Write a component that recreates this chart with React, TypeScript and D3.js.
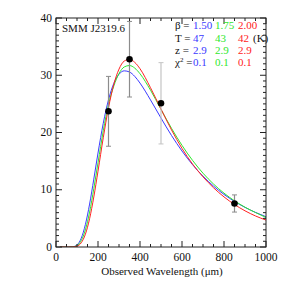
import React from "react";
import * as d3 from "d3";

const wavelengths = [20, 40, 60, 80, 100, 120, 140, 160, 180, 200, 225, 250, 275, 300, 325, 350, 375, 400, 450, 500, 550, 600, 650, 700, 750, 800, 850, 900, 950, 1000];
const blueFlux = [0, 0, 0, 0.04, 0.36, 1.51, 3.93, 7.5, 11.86, 16.41, 21.61, 25.72, 28.56, 30.18, 30.77, 30.57, 29.8, 28.63, 25.69, 22.52, 19.48, 16.76, 14.39, 12.37, 10.64, 9.18, 7.96, 6.92, 6.04, 5.29];
const greenFlux = [0, 0, 0, 0.02, 0.25, 1.1, 3.0, 6.1, 10.2, 14.7, 20.3, 24.9, 28.1, 30.3, 31.45, 31.7, 31.25, 30.26, 27.4, 24.03, 20.73, 17.75, 15.14, 12.89, 11.0, 9.41, 8.07, 6.95, 6.02, 5.15];
const redFlux = [0, 0, 0, 0.01, 0.14, 0.73, 2.24, 4.95, 8.74, 13.24, 19.08, 24.31, 28.38, 31.07, 32.48, 32.76, 32.25, 31.14, 27.82, 24.09, 20.45, 17.22, 14.5, 12.25, 10.35, 8.75, 7.42, 6.32, 5.42, 4.7];

const obsLambda = [250, 350, 500, 850];
const obsFlux = [23.7, 32.8, 25.1, 7.6];
const obsErr = [6.1, 6.6, 7.1, 1.5];
const errColors = ["#8c8c8c", "#8c8c8c", "#c4c4c4", "#8c8c8c"];

const xMajorTicks = [0, 200, 400, 600, 800, 1000];
const yMajorTicks = [0, 10, 20, 30, 40];

const legendRows = [
  { label: "β =", vals: ["1.50", "1.75", "2.00"], unit: "" },
  { label: "T =", vals: ["47", "43", "42"], unit: "(K)" },
  { label: "z =", vals: ["2.9", "2.9", "2.9"], unit: "" },
  { label: "χ² =", vals: ["0.1", "0.1", "0.1"], unit: "" },
];
const seriesColors = ["#3a3aff", "#2ee82e", "#ff2222"];

export default function App() {
  const W = 283, H = 283;
  const L = 56, R = 266, T = 18, B = 247;
  const x = d3.scaleLinear().domain([0, 1000]).range([L, R]);
  const y = d3.scaleLinear().domain([0, 40]).range([B, T]);
  const font = "'Liberation Serif', 'Times New Roman', serif";

  const line = (vals: number[]) =>
    d3
      .line<number>()
      .x((_, i) => x(wavelengths[i]))
      .y((v) => y(v))
      .curve(d3.curveMonotoneX)(vals) || "";

  const xMinor = d3.range(0, 1001, 50);
  const yMinor = d3.range(0, 41, 1);

  const ticks: JSX.Element[] = [];
  xMinor.forEach((v) => {
    const major = v % 200 === 0;
    const len = major ? 6 : 3;
    ticks.push(<line key={"xb" + v} x1={x(v)} x2={x(v)} y1={B} y2={B - len} stroke="#222" />);
    ticks.push(<line key={"xt" + v} x1={x(v)} x2={x(v)} y1={T} y2={T + len} stroke="#222" />);
  });
  yMinor.forEach((v) => {
    const major = v % 10 === 0;
    const len = major ? 6 : 3;
    ticks.push(<line key={"yl" + v} x1={L} x2={L + len} y1={y(v)} y2={y(v)} stroke="#222" />);
    ticks.push(<line key={"yr" + v} x1={R} x2={R - len} y1={y(v)} y2={y(v)} stroke="#222" />);
  });

  const colX = [193, 215, 238];
  const rowY = [29, 41.5, 54, 66];

  return (
    <svg width={W} height={H} style={{ position: "absolute", left: 0, top: 0, background: "#fff" }} fontFamily={font}>
      <defs>
        <clipPath id="plotclip">
          <rect x={L} y={T} width={R - L} height={B - T} />
        </clipPath>
      </defs>
      <rect x={0} y={0} width={W} height={H} fill="#fff" />
      <g clipPath="url(#plotclip)">
        <path d={line(blueFlux)} fill="none" stroke={seriesColors[0]} strokeWidth={1} />
        <path d={line(greenFlux)} fill="none" stroke={seriesColors[1]} strokeWidth={1} />
        <path d={line(redFlux)} fill="none" stroke={seriesColors[2]} strokeWidth={1} />
        {obsLambda.map((l, i) => (
          <g key={"e" + i}>
            <line x1={x(l)} x2={x(l)} y1={y(obsFlux[i] - obsErr[i])} y2={y(obsFlux[i] + obsErr[i])} stroke={errColors[i]} strokeWidth={1.2} />
            <line x1={x(l) - 2.5} x2={x(l) + 2.5} y1={y(obsFlux[i] - obsErr[i])} y2={y(obsFlux[i] - obsErr[i])} stroke={errColors[i]} strokeWidth={1} />
            <line x1={x(l) - 2.5} x2={x(l) + 2.5} y1={y(obsFlux[i] + obsErr[i])} y2={y(obsFlux[i] + obsErr[i])} stroke={errColors[i]} strokeWidth={1} />
          </g>
        ))}
        {obsLambda.map((l, i) => (
          <circle key={"p" + i} cx={x(l)} cy={y(obsFlux[i])} r={3.3} fill="#000" />
        ))}
      </g>
      <rect x={L} y={T} width={R - L} height={B - T} fill="none" stroke="#222" strokeWidth={1} />
      {ticks}
      {xMajorTicks.map((v) => (
        <text key={"xl" + v} x={x(v)} y={261} fontSize={11.5} textAnchor="middle" fill="#111">
          {v}
        </text>
      ))}
      {yMajorTicks.map((v) => (
        <text key={"yl" + v} x={52} y={y(v) + 3.5} fontSize={11.5} textAnchor="end" fill="#111">
          {v}
        </text>
      ))}
      <text x={(L + R) / 2 + 1} y={275} fontSize={11} textAnchor="middle" fill="#111">
        Observed Wavelength (μm)
      </text>
      <text x={62} y={32} fontSize={11} fill="#111">
        SMM J2319.6
      </text>
      {legendRows.map((row, ri) => (
        <g key={"lg" + ri} fontSize={11}>
          <text x={175} y={rowY[ri]} fill="#111">
            {row.label === "χ² =" ? (
              <>
                χ<tspan fontSize={7} dy={-4}>2</tspan>
                <tspan dy={4}> =</tspan>
              </>
            ) : (
              row.label
            )}
          </text>
          {row.vals.map((v, ci) => (
            <text key={ci} x={colX[ci]} y={rowY[ri]} fill={seriesColors[ci]}>
              {v}
            </text>
          ))}
          {row.unit && (
            <text x={253} y={rowY[ri]} fill="#111">
              {row.unit}
            </text>
          )}
        </g>
      ))}
    </svg>
  );
}
